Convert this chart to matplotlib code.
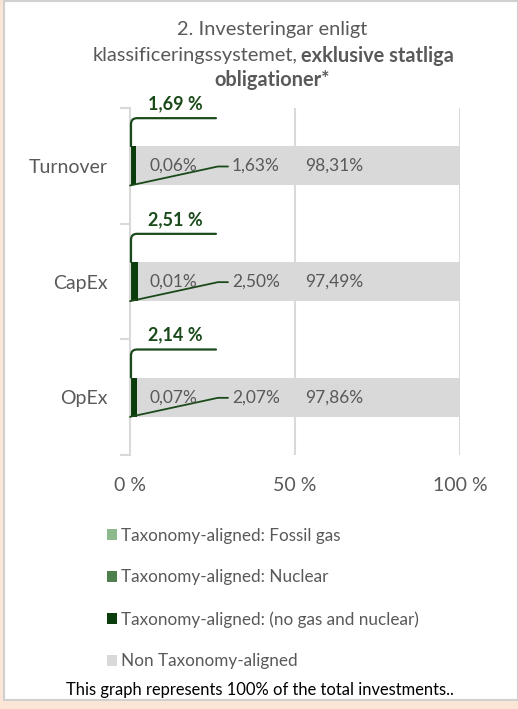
import matplotlib.pyplot as plt
from matplotlib.patches import Rectangle
import numpy as np

plt.rcParams['font.family'] = ['Lato', 'DejaVu Sans']

categories = ['Turnover', 'CapEx', 'OpEx']
fossil_gas = [0.06, 0.01, 0.07]
nuclear = [0.0, 0.0, 0.0]
aligned = [1.63, 2.50, 2.07]
non_aligned = [98.31, 97.49, 97.86]
totals = ['1,69 %', '2,51 %', '2,14 %']
gas_labels = ['0,06%', '0,01%', '0,07%']
aligned_labels = ['1,63%', '2,50%', '2,07%']
non_labels = ['98,31%', '97,49%', '97,86%']
xticks = [0, 50, 100]
xtick_labels = ['0 %', '50 %', '100 %']

c_gas = '#8fb98f'
c_nuc = '#4f7f4f'
c_aligned = '#0b3d0b'
c_non = '#d9d9d9'
c_text = '#595959'
c_green = '#1a4a1a'

fig = plt.figure(figsize=(5.18, 7.09), dpi=100)
fig.patch.set_facecolor('#fbe5d6')
# white panel
fig.patches.append(Rectangle((4 / 518, 9 / 709), 514 / 518, 699 / 709, transform=fig.transFigure,
                             facecolor='white', edgecolor='#d0d0d0', lw=1.5, zorder=-5))

ax = fig.add_axes([130 / 518, 1 - 455 / 709, 330 / 518, 347 / 709])
ax.set_facecolor('none')
ax.set_zorder(2)

y = np.arange(len(categories))
h = 0.34
left = np.zeros(3)
for vals, col, lab in [(fossil_gas, c_gas, 'Taxonomy-aligned: Fossil gas'),
                       (nuclear, c_nuc, 'Taxonomy-aligned: Nuclear'),
                       (aligned, c_aligned, 'Taxonomy-aligned: (no gas and nuclear)'),
                       (non_aligned, c_non, 'Non Taxonomy-aligned')]:
    ax.barh(y, vals, left=left, height=h, color=col, label=lab, zorder=2)
    left += np.array(vals)

ax.set_xlim(0, 100)
ax.set_ylim(2.5, -0.5)
ax.set_xticks(xticks)
ax.set_xticklabels(xtick_labels, fontsize=14, color=c_text)
ax.tick_params(axis='x', length=0, pad=16)
ax.set_yticks(y)
ax.set_yticklabels(categories, fontsize=14, color=c_text)
ax.tick_params(axis='y', length=0, pad=16)
ax.set_yticks([-0.5, 0.5, 1.5, 2.5], minor=True)
ax.tick_params(axis='y', which='minor', length=7, color='#d9d9d9', width=1.5)
for s in ['top', 'right', 'bottom']:
    ax.spines[s].set_visible(False)
ax.spines['left'].set_color('#d9d9d9')
ax.spines['left'].set_linewidth(1.5)
for gx in xticks[1:]:
    ax.axvline(gx, color='#d9d9d9', lw=1.5, zorder=1)

for i in range(3):
    # bracket with total above bar
    ax.annotate('', xy=(0.3, y[i] - h / 2), xytext=(85, 28), textcoords='offset pixels',
                arrowprops=dict(arrowstyle='-', color=c_green, lw=1.6, shrinkA=0, shrinkB=0,
                                connectionstyle='angle,angleA=0,angleB=90,rad=6'))
    ax.annotate(totals[i], xy=(0, y[i] - h / 2), xytext=(45, 34), textcoords='offset pixels',
                ha='center', va='bottom', fontsize=13, fontweight='bold', color=c_green)
    # leader line to aligned label
    ax.annotate('', xy=(0, y[i] + h / 2), xytext=(98, 19), textcoords='offset pixels',
                arrowprops=dict(arrowstyle='-', color=c_green, lw=1.3, shrinkA=0, shrinkB=0,
                                connectionstyle='angle,angleA=0,angleB=12.2,rad=0'))
    ax.annotate(aligned_labels[i], xy=(0, y[i]), xytext=(102, 0), textcoords='offset pixels',
                ha='left', va='center', fontsize=12.5, color=c_text)
    ax.annotate(gas_labels[i], xy=(0, y[i]), xytext=(20, 0), textcoords='offset pixels',
                ha='left', va='center', fontsize=12.5, color=c_text)
    ax.annotate(non_labels[i], xy=(0, y[i]), xytext=(175, 0), textcoords='offset pixels',
                ha='left', va='center', fontsize=12.5, color=c_text)

# title
fig.text(272 / 518, 1 - 30 / 709, '2. Investeringar enligt', ha='center', va='center',
         fontsize=14.4, color=c_text)
fig.text(297 / 518, 1 - 56 / 709, 'klassificeringssystemet,', ha='right', va='center',
         fontsize=14.4, color=c_text)
fig.text(301 / 518, 1 - 56 / 709, 'exklusive statliga', ha='left', va='center',
         fontsize=14.4, color=c_text, fontweight='bold')
fig.text(272 / 518, 1 - 80 / 709, 'obligationer*', ha='center', va='center',
         fontsize=14.4, color=c_text, fontweight='bold')

handles, labels = ax.get_legend_handles_labels()
fig.legend(handles, labels, loc='upper left', bbox_to_anchor=(100 / 518, 1 - 521 / 709),
           frameon=False, fontsize=12.3, labelcolor=c_text, handlelength=0.6, handleheight=0.6,
           handletextpad=0.25, labelspacing=1.5, borderaxespad=0)

fig.text(260 / 518, 1 - 690 / 709, 'This graph represents 100% of the total investments..',
         ha='center', va='center', fontsize=11.9, color='black')

fig.savefig('out.png', dpi=100)
